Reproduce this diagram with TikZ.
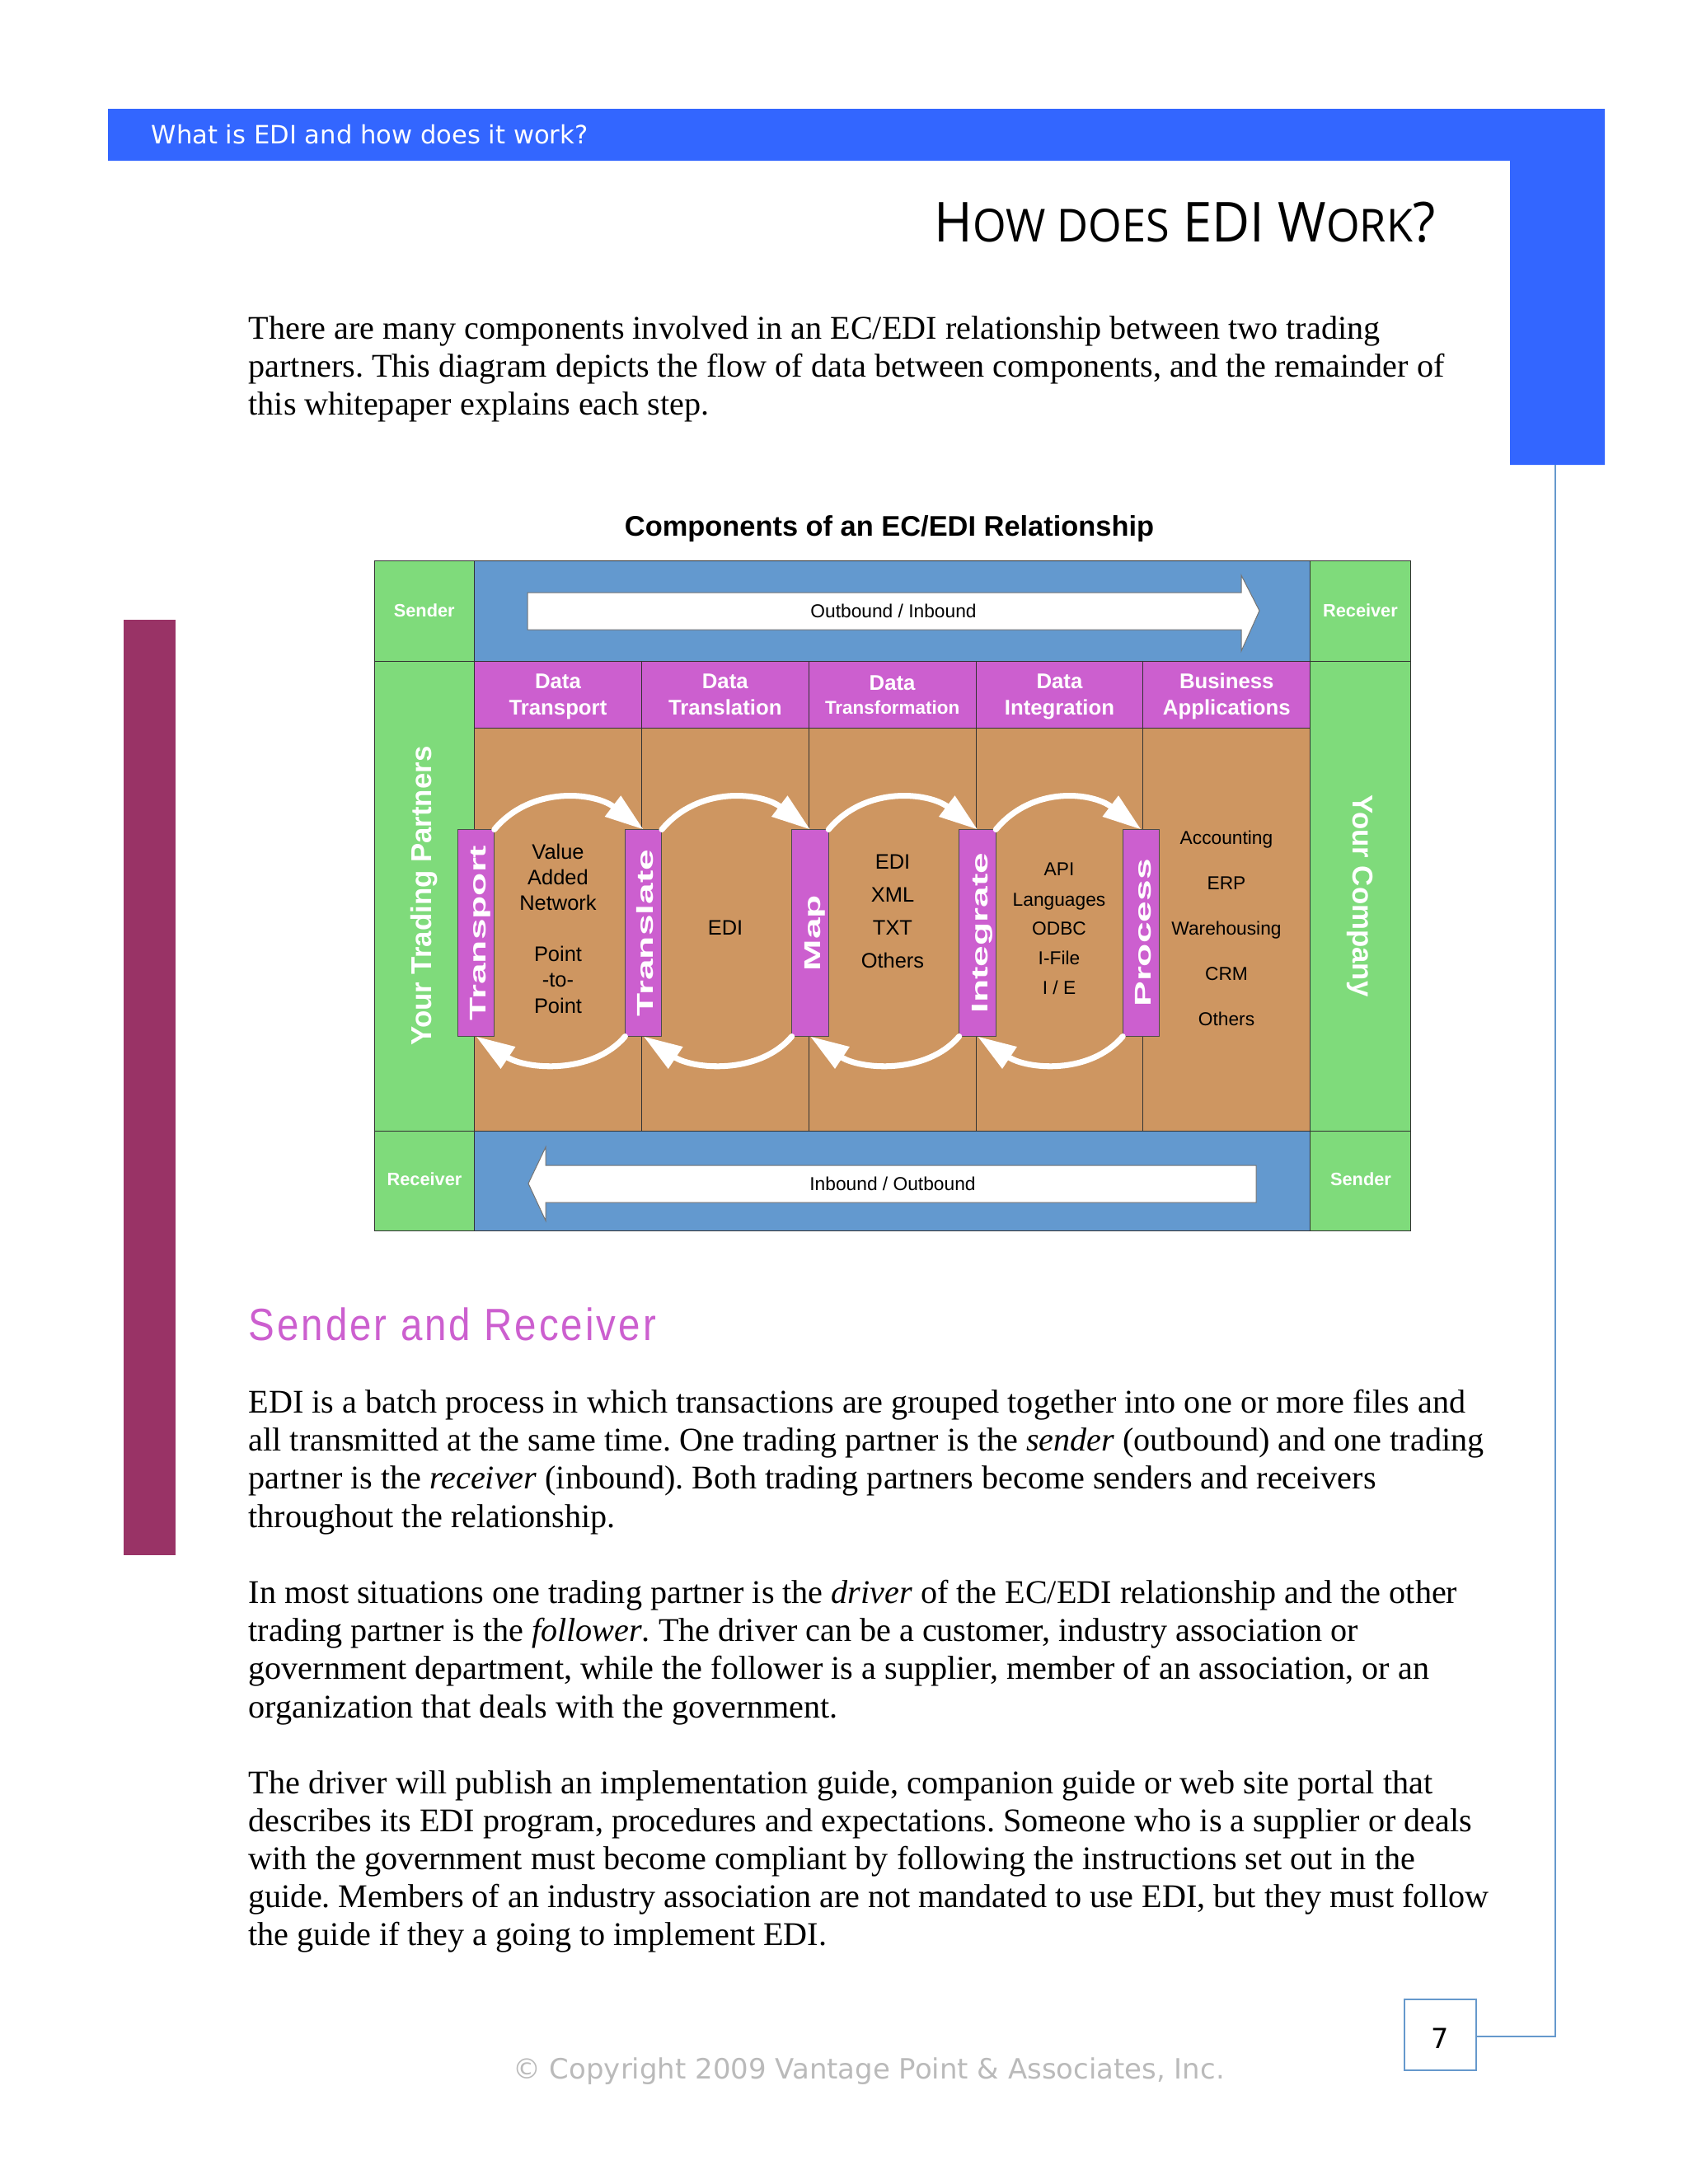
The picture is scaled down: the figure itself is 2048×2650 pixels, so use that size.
\documentclass[tikz,border=0pt]{standalone}
\usepackage{fontspec}
\setmainfont{Liberation Serif}
\setsansfont{Liberation Sans}
\newfontfamily\versana{DejaVu Sans}
\newfontfamily\titlefont[FakeStretch=0.945]{Open Sans}
\newfontfamily\headfont[FakeStretch=0.865,LetterSpace=5.5]{Liberation Sans}
\newfontfamily\widefont[FakeStretch=1.66]{Liberation Sans Bold}
\usetikzlibrary{positioning,arrows.meta}
\definecolor{barblue}{HTML}{3366FF}
\definecolor{sideplum}{HTML}{993366}
\definecolor{cellgreen}{HTML}{7FDB7B}
\definecolor{cellblue}{HTML}{6399CF}
\definecolor{cellpurple}{HTML}{CC5FCF}
\definecolor{celltan}{HTML}{CE9661}
\definecolor{rulecolor}{HTML}{6699CC}
\newcommand{\titlesc}[1]{{\fontsize{16.5}{20}\selectfont\MakeUppercase{#1}}}
\newcommand{\headstrut}{\rule{0pt}{7pt}}
\frenchspacing
\begin{document}
\begin{tikzpicture}[
  x=0.29883pt, y=-0.29883pt,
  node distance=0pt and 0pt,
  cell/.style={draw=black!80, line width=0.3pt, inner sep=0pt, outer sep=0pt, align=center},
  greencell/.style={cell, fill=cellgreen, text=white, font=\sffamily\bfseries\fontsize{6.5}{8}\selectfont},
  greenlabel/.style={text=white, inner sep=0pt, font=\sffamily\bfseries\fontsize{6.5}{8}\selectfont},
  sidelabel/.style={greenlabel, font=\sffamily\bfseries\fontsize{10.4}{12}\selectfont},
  bluebar/.style={cell, fill=cellblue, minimum width=1014.2*0.29883pt, minimum height=122*0.29883pt},
  headcell/.style={cell, fill=cellpurple, text=white, minimum width=202.84*0.29883pt, minimum height=81.5*0.29883pt,
    font=\sffamily\bfseries\fontsize{7.7}{9.5}\selectfont},
  bodycell/.style={cell, fill=celltan, minimum width=202.84*0.29883pt, minimum height=488.5*0.29883pt},
  stepbar/.style={draw=black!70, line width=0.3pt, fill=cellpurple, text=white, inner sep=0pt, outer sep=0pt,
    text height=7.2pt, text depth=0pt,
    minimum width=251*0.29883pt, minimum height=44.5*0.29883pt, rotate=90, font=\widefont\fontsize{8.3}{10}\selectfont},
  bodytext/.style={text=black, align=center, inner sep=0pt, text height=5.3pt, text depth=0pt, font=\sffamily\fontsize{7.6}{9.3}\selectfont},
  smalltext/.style={bodytext, text height=4.9pt, font=\sffamily\fontsize{6.8}{8}\selectfont},
  para/.style={anchor=north west, inner sep=0pt, align=left, font=\fontsize{12}{13.75}\selectfont},
  bigarrow/.style={draw=black!55, line width=0.3pt, fill=white},
  flow/.style={draw=white, line width=2.1pt, line cap=round, -{Triangle[length=14pt,width=9pt,fill=white]}},
]
% page furniture
\useasboundingbox (0,0) rectangle (2048,2650);
\fill[barblue] (131,132) -| (1947,564) -| (1832,195) -| cycle;
\fill[sideplum] (150,752) rectangle (213,1887);
\node[anchor=west, text=white, font=\versana\fontsize{9.15}{11}\selectfont] (section) at (172,163) {What is EDI and how does it work?};
\node[anchor=base east, inner sep=0pt, font=\titlefont\fontsize{20}{24}\selectfont] (title) at (1742,293) {H\titlesc{ow does} EDI W\titlesc{ork}?};
\node[para] (intro) at (301,383) {There are many components involved in an EC/EDI relationship between two trading\\
partners. This diagram depicts the flow of data between components, and the remainder of\\
this whitepaper explains each step.};
\node[font=\sffamily\bfseries\fontsize{10.28}{12}\selectfont] (caption) at (1079,641.5) {Components of an EC/EDI Relationship};
% grid
\node[greencell, anchor=north west, minimum width=121.5*0.29883pt, minimum height=122*0.29883pt] (sendertop) at (454,680) {Sender};
\node[bluebar, right=of sendertop] (outbar) {};
\node[greencell, right=of outbar, minimum width=121.5*0.29883pt, minimum height=122*0.29883pt] (receivertop) {Receiver};
\node[greencell, below=of sendertop, minimum width=121.5*0.29883pt, minimum height=570*0.29883pt] (partners) {};
\node[greencell, below=of receivertop, minimum width=121.5*0.29883pt, minimum height=570*0.29883pt] (company) {};
\node[greencell, below=of partners, minimum width=121.5*0.29883pt, minimum height=121*0.29883pt] (receiverbot) {};
\node[bluebar, right=of receiverbot, minimum height=121*0.29883pt] (inbar) {};
\node[greencell, right=of inbar, minimum width=121.5*0.29883pt, minimum height=121*0.29883pt] (senderbot) {};
\node[sidelabel, rotate=90] (partnerstext) at (515,1087) {Your Trading Partners};
\node[sidelabel, rotate=-90] (companytext) at (1650,1087) {Your Company};
\node[greenlabel] (receiverbottext) at (515,1431) {Receiver};
\node[greenlabel] (senderbottext) at (1651,1431) {Sender};
% column heads and bodies
\node[headcell, anchor=north west] (headtransport) at (575.5,802) {\headstrut Data\\Transport};
\node[headcell, right=of headtransport] (headtranslation) {\headstrut Data\\Translation\vphantom{p}};
\node[headcell, right=of headtranslation] (headtransform) {\headstrut Data\\[-1pt]{\fontsize{6.7}{9.5}\selectfont Transformation\vphantom{p}}};
\node[headcell, right=of headtransform] (headintegration) {\headstrut Data\\Integration};
\node[headcell, right=of headintegration] (headbusiness) {\headstrut Business\\Applications};
\node[bodycell, below=of headtransport] (bodytransport) {};
\node[bodycell, below=of headtranslation] (bodytranslation) {};
\node[bodycell, below=of headtransform] (bodytransform) {};
\node[bodycell, below=of headintegration] (bodyintegration) {};
\node[bodycell, below=of headbusiness] (bodybusiness) {};
% outbound and inbound arrows
\draw[bigarrow] (640,719) -- (1506,719) -- (1506,698) -- (1528,741) -- (1506,790) -- (1506,764) -- (640,764) -- cycle;
\draw[bigarrow] (641,1436) -- (662,1392) -- (662,1414) -- (1524,1414) -- (1524,1459) -- (662,1459) -- (662,1481) -- cycle;
\node[smalltext] (outtext) at (1084,741) {Outbound / Inbound};
\node[smalltext] (intext) at (1083,1436) {Inbound / Outbound};
% step bars
\node[stepbar] (transport) at (577.5,1132) {Transport};
\node[stepbar] (translate) at (780.7,1132) {Translate};
\node[stepbar] (map) at (983,1132) {Map};
\node[stepbar] (integrate) at (1186,1132) {Integrate};
\node[stepbar] (process) at (1384.5,1132) {Process};
% cell contents
\node[bodytext] (vantext) at (677,1034) {Value};
\node[bodytext] (addedtext) at (677,1065) {Added};
\node[bodytext] (nettext) at (677,1096) {Network};
\node[bodytext] (pointa) at (677,1158) {Point};
\node[bodytext] (totext) at (677,1189) {-to-};
\node[bodytext] (pointb) at (677,1221) {Point};
\node[bodytext] (editext) at (880,1126) {EDI};
\node[bodytext] (edifmt) at (1083,1046) {EDI};
\node[bodytext] (xmlfmt) at (1083,1086) {XML};
\node[bodytext] (txtfmt) at (1083,1126) {TXT};
\node[bodytext] (othersfmt) at (1083,1166) {Others};
\node[smalltext] (apitext) at (1285,1054) {API};
\node[smalltext] (langtext) at (1285,1091) {Languages};
\node[smalltext] (odbctext) at (1285,1126) {ODBC};
\node[smalltext] (ifiletext) at (1285,1162) {I-File};
\node[smalltext] (ietext) at (1285,1198) {I / E};
\node[smalltext] (accttext) at (1488,1016) {Accounting};
\node[smalltext] (erptext) at (1488,1071) {ERP};
\node[smalltext] (waretext) at (1488,1126) {Warehousing};
\node[smalltext] (crmtext) at (1488,1181) {CRM};
\node[smalltext] (othertext) at (1488,1236) {Others};
% flow arcs
\foreach \from/\to in {transport/translate,translate/map,map/integrate,integrate/process}
  \draw[flow] (\from.south east) .. controls +(45,-54) and +(-59,-45) .. (\to.east);
\foreach \from/\to in {translate/transport,map/translate,integrate/map,process/integrate}
  \draw[flow] (\from.north west) .. controls +(-40,47) and +(60,40) .. (\to.west);
% text below the diagram
\node[anchor=base west, inner sep=0pt, text=cellpurple, font=\headfont\fontsize{16.4}{18}\selectfont] (senderhead) at (301,1626) {Sender and Receiver};
\node[para] (parasender) at (301,1686) {EDI is a batch process in which transactions are grouped together into one or more files and\\
all transmitted at the same time. One trading partner is the \emph{sender} (outbound) and one trading\\
partner is the \emph{receiver} (inbound). Both trading partners become senders and receivers\\
throughout the relationship.};
\node[para] (paradriver) at (301,1917) {In most situations one trading partner is the \emph{driver} of the EC/EDI relationship and the other\\
trading partner is the \emph{follower}. The driver can be a customer, industry association or\\
government department, while the follower is a supplier, member of an association, or an\\
organization that deals with the government.};
\node[para] (paraguide) at (301,2148) {The driver will publish an implementation guide, companion guide or web site portal that\\
describes its EDI program, procedures and expectations. Someone who is a supplier or deals\\
with the government must become compliant by following the instructions set out in the\\
guide. Members of an industry association are not mandated to use EDI, but they must follow\\
the guide if they a going to implement EDI.};
% footer
\node[draw=rulecolor, line width=0.6pt, minimum width=87*0.29883pt, minimum height=86*0.29883pt, inner sep=0pt, outer sep=0pt,
  text height=9.7pt, text depth=0pt, font=\versana\fontsize{10}{12}\selectfont] (pagebox) at (1747,2469) {7};
\coordinate (linetop) at (1887,564);
\coordinate (lineend) at ([yshift=-0.6pt]pagebox.east);
\draw[rulecolor, line width=0.6pt] (linetop) |- (lineend);
\node[text=black!27, font=\versana\fontsize{10.14}{12}\selectfont] (copyright) at (1054,2513) {© Copyright 2009 Vantage Point \& Associates, Inc.};
\end{tikzpicture}
\end{document}
